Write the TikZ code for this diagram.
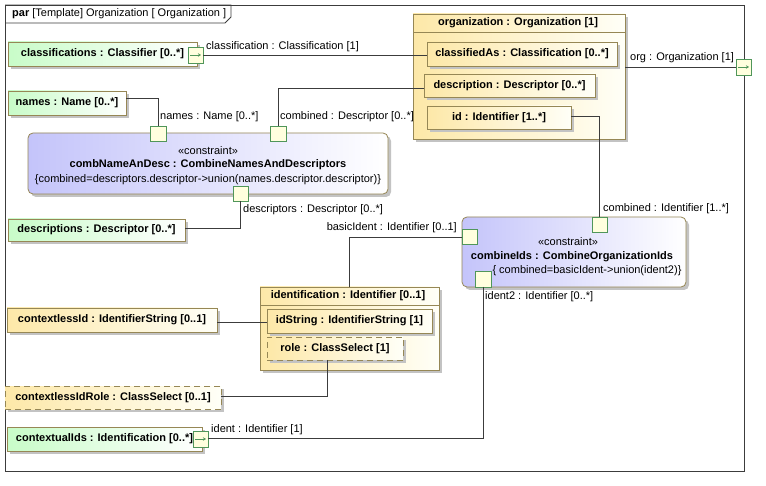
\documentclass[tikz,border=0pt]{standalone}
\usepackage{fontspec}
\setmainfont{Liberation Sans}
\usetikzlibrary{shadows,arrows.meta}
\definecolor{bordc}{RGB}{150,135,85}
\definecolor{linec}{RGB}{60,60,60}
\definecolor{shadc}{RGB}{195,195,195}
\definecolor{grL}{RGB}{200,252,200}
\definecolor{ylL}{RGB}{253,232,168}
\definecolor{blL}{RGB}{196,196,250}
\definecolor{portc}{RGB}{80,150,90}
\definecolor{portfill}{RGB}{255,255,222}
\tikzset{
  fnt/.style={font=\fontsize{11}{13}\selectfont},
  fntb/.style={font=\fontsize{11}{13}\selectfont\bfseries},
  base/.style={draw=bordc, line width=0.8pt, inner sep=0pt, outer sep=0pt, text=black},
  shad/.style={drop shadow={shadow xshift=3pt, shadow yshift=-3pt, fill=shadc, opacity=1}},
  greenbox/.style={base, shad, left color=grL, right color=white, fntb},
  yellowbox/.style={base, shad, left color=ylL, right color=white!97!yellow, fntb},
  dashbox/.style={yellowbox, dash pattern=on 6pt off 4pt},
  bluebox/.style={base, shad, rounded corners=5pt, left color=blL, right color=white},
  portbox/.style={draw=portc, fill=portfill, line width=0.8pt, inner sep=0pt, outer sep=0pt, minimum width=15pt, minimum height=15pt},
  parrow/.style={draw=portc, line width=0.7pt, -{Stealth[length=3pt,width=3.5pt]}},
  conn/.style={draw=linec, line width=0.8pt},
  lbl/.style={fnt, inner sep=0pt, anchor=west},
  txt/.style={fnt, inner sep=0pt},
  txtb/.style={fntb, inner sep=0pt}
}
\begin{document}
\begin{tikzpicture}[x=1pt,y=-1pt]
\useasboundingbox[fill=white] (0,0) rectangle (766,486);
% frame
\draw[linec, line width=0.8pt] (5,5) rectangle (744,471);
\draw[linec, line width=0.8pt] (5,5) -- (231,5) -- (231,17) -- (225,23) -- (5,23);
\node[lbl] (ftitle) at (12,14) {\textbf{par} [Template] Organization [ Organization ]};

% organization
\node[yellowbox, minimum width=212pt, minimum height=125pt] (org) at (519,76.5) {};
\node[txtb] (orgT) at (518,23) {organization : Organization [1]};
\coordinate (orgSL) at (413,32);
\coordinate (orgSR) at (625,32);
\draw[draw=bordc, line width=0.8pt] (orgSL) -- (orgSR);
\node[yellowbox, minimum width=190pt, minimum height=24pt] (clsAs) at (522,54) {classifiedAs : Classification [0..*]};
\node[yellowbox, minimum width=171pt, minimum height=23pt] (desc) at (509.5,85.5) {description : Descriptor [0..*]};
\node[yellowbox, minimum width=144pt, minimum height=23pt] (id) at (499,117.5) {id : Identifier [1..*]};

% left column
\node[greenbox, minimum width=189pt, minimum height=24pt] (cls) at (102.5,54) {classifications : Classifier [0..*]};
\node[portbox, minimum height=16pt] (clsP) at (195.5,55) {};
\draw[parrow] ([xshift=2pt]clsP.west) -- ([xshift=-2pt]clsP.east);

\node[greenbox, minimum width=118pt, minimum height=24pt] (names) at (67,103) {names : Name [0..*]};
\node[greenbox, minimum width=177pt, minimum height=22pt] (descs) at (96.5,230) {descriptions : Descriptor [0..*]};

% combNameAnDesc
\node[bluebox, minimum width=360pt, minimum height=61pt] (cnd) at (208,163.5) {};
\node[txt] (cndS) at (208,151) {«constraint»};
\node[txtb] (cndT) at (208,164.5) {combNameAnDesc : CombineNamesAndDescriptors};
\node[txt] (cndB) at (208,180) {\{combined=descriptors.descriptor->union(names.descriptor.descriptor)\}};
\node[portbox, minimum width=16pt] (cndP1) at (158,133.5) {};
\node[portbox, minimum width=16pt] (cndP2) at (278,133.5) {};
\node[portbox] (cndP3) at (240.5,193.5) {};

% org port
\node[portbox, minimum height=16pt] (orgP) at (743.5,67) {};
\draw[parrow] ([xshift=2pt]orgP.west) -- ([xshift=-2pt]orgP.east);

% combineIds
\node[bluebox, minimum width=224pt, minimum height=70pt] (cid) at (574,252) {};
\node[txt] (cidS) at (568,242) {«constraint»};
\node[txtb] (cidT) at (572,256.5) {combineIds : CombineOrganizationIds};
\node[txt] (cidB) at (587,271) {\{ combined=basicIdent->union(ident2)\}};
\node[portbox] (cidP1) at (599.5,224.5) {};
\node[portbox] (cidP2) at (469.5,236.5) {};
\node[portbox, minimum width=16pt, minimum height=16pt] (cidP3) at (483,279) {};

% identification
\node[yellowbox, minimum width=179pt, minimum height=83pt] (ident) at (349.5,328.5) {};
\node[txtb] (identT) at (348,296) {identification : Identifier [0..1]};
\coordinate (idSL) at (260,305);
\coordinate (idSR) at (439,305);
\draw[draw=bordc, line width=0.8pt] (idSL) -- (idSR);
\node[yellowbox, minimum width=165pt, minimum height=24pt] (idStr) at (349.5,321) {idString : IdentifierString [1]};
\node[dashbox, minimum width=136pt, minimum height=23pt] (role) at (335,348.5) {role : ClassSelect [1]};

\node[yellowbox, minimum width=210pt, minimum height=24pt] (cless) at (112,320) {contextlessId : IdentifierString [0..1]};
\node[dashbox, minimum width=216pt, minimum height=23pt] (clessR) at (113,397.5) {contextlessIdRole : ClassSelect [0..1]};
\node[greenbox, minimum width=195pt, minimum height=24pt] (ctx) at (104.5,439) {contextualIds : Identification [0..*]};
\node[portbox, minimum height=16pt] (ctxP) at (200.5,439) {};
\draw[parrow] ([xshift=2pt]ctxP.west) -- ([xshift=-2pt]ctxP.east);

% connectors
\draw[conn] (clsP.east) -- (clsP.east -| clsAs.west);
\node[lbl] (l1) at (206,46.5) {classification : Classification [1]};

\coordinate (c2) at (158,98);
\draw[conn] (names.east |- c2) -- (c2) -- (cndP1.north);
\node[lbl] (l2) at (160,117) {names : Name [0..*]};

\coordinate (c3) at (278,88);
\draw[conn] (cndP2.north) -- (c3) -- (c3 -| desc.west);
\node[lbl] (l3) at (280,117) {combined : Descriptor [0..*]};

\coordinate (c4) at (240.5,228);
\draw[conn] (cndP3.south) -- (c4) -- (c4 -| descs.east);
\node[lbl] (l4) at (243,210) {descriptors : Descriptor [0..*]};

\draw[conn] (org.east |- orgP.west) -- (orgP.west);
\node[lbl] (l5) at (630,58) {org : Organization [1]};

\coordinate (c6) at (599.5,116);
\draw[conn] (id.east |- c6) -- (c6) -- (cidP1.north);
\node[lbl] (l6) at (603,208.5) {combined : Identifier [1..*]};

\coordinate (c7) at (349.5,237);
\draw[conn] (cidP2.west |- c7) -- (c7) -- (ident.north);
\node[fnt, inner sep=0pt, anchor=east] (l7) at (457,228) {basicIdent : Identifier [0..1]};

\coordinate (c8) at (483,438);
\draw[conn] (cidP3.south) -- (c8) -- (c8 -| ctxP.east);
\node[lbl] (l8) at (485,297) {ident2 : Identifier [0..*]};
\node[lbl] (l9) at (211,430) {ident : Identifier [1]};

\draw[conn] (cless.east |- 0,322) -- (idStr.west |- 0,322);

\coordinate (c10) at (327,396);
\draw[conn] (role.south -| c10) -- (c10) -- (c10 -| clessR.east);
\end{tikzpicture}
\end{document}
